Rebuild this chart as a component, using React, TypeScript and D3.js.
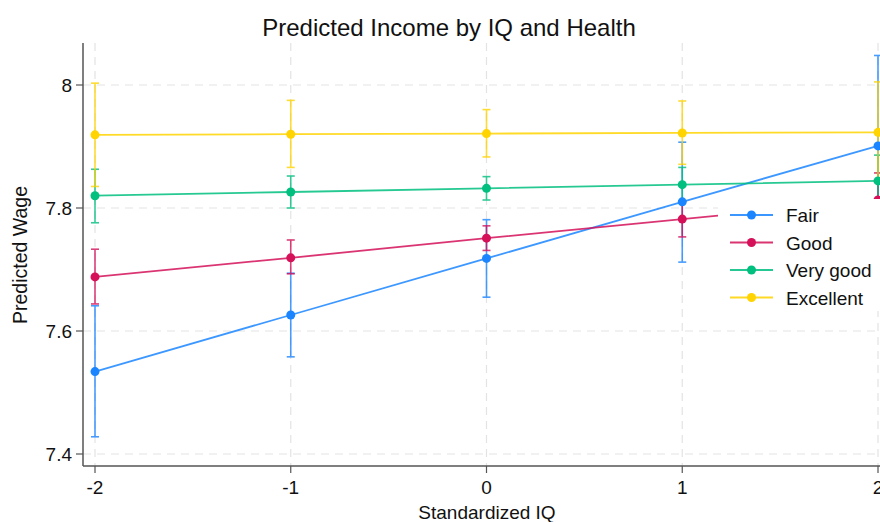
import React from "react";
import * as d3 from "d3";

const xTicks = [-2, -1, 0, 1, 2];
const yTicks = [7.4, 7.6, 7.8, 8];
const seriesNames = ["Fair", "Good", "Very good", "Excellent"];
const seriesColors = ["#1a85ff", "#d41159", "#00bf7f", "#ffd400"];

const fairMean = [7.534, 7.626, 7.718, 7.81, 7.901];
const fairLo = [7.428, 7.558, 7.655, 7.712, 7.754];
const fairHi = [7.641, 7.694, 7.781, 7.907, 8.048];

const goodMean = [7.688, 7.719, 7.751, 7.782, 7.813];
const goodLo = [7.644, 7.693, 7.731, 7.753, 7.77];
const goodHi = [7.733, 7.748, 7.771, 7.811, 7.857];

const vgoodMean = [7.82, 7.826, 7.832, 7.838, 7.844];
const vgoodLo = [7.776, 7.8, 7.813, 7.81, 7.802];
const vgoodHi = [7.863, 7.852, 7.851, 7.866, 7.886];

const excMean = [7.919, 7.92, 7.921, 7.922, 7.923];
const excLo = [7.835, 7.866, 7.883, 7.871, 7.842];
const excHi = [8.003, 7.975, 7.96, 7.974, 8.005];

const means = [fairMean, goodMean, vgoodMean, excMean];
const los = [fairLo, goodLo, vgoodLo, excLo];
const his = [fairHi, goodHi, vgoodHi, excHi];

const W = 880;
const H = 522;
const FONT = "'Liberation Sans', Arial, Helvetica, sans-serif";

export default function App() {
  const x = d3.scaleLinear().domain([-2, 2]).range([95, 878]);
  const y = d3.scaleLinear().domain([7.4, 8]).range([454, 85]);
  const axisLeft = 83;
  const axisBottom = 466;
  const plotTop = 43;

  const line = d3
    .line<number>()
    .x((_, i) => x(xTicks[i]))
    .y((d) => y(d));

  const legendX = 730;
  const legendY0 = 215;
  const legendDy = 27.5;

  return (
    <svg
      width={W}
      height={H}
      style={{ position: "absolute", left: 0, top: 0, background: "#fff" }}
      fontFamily={FONT}
    >
      <rect x={0} y={0} width={W} height={H} fill="#fff" />
      {yTicks.map((t) => (
        <line
          key={"gy" + t}
          x1={axisLeft}
          x2={W}
          y1={y(t)}
          y2={y(t)}
          stroke="#e3e3e3"
          strokeWidth={1.2}
          strokeDasharray="8,6"
        />
      ))}
      {xTicks.map((t) => (
        <line
          key={"gx" + t}
          x1={x(t)}
          x2={x(t)}
          y1={plotTop}
          y2={axisBottom}
          stroke="#e3e3e3"
          strokeWidth={1.2}
          strokeDasharray="8,6"
        />
      ))}
      {means.map((m, s) => (
        <g key={"eb" + s} stroke={seriesColors[s]} strokeWidth={1.6} opacity={0.8}>
          {m.map((_, i) => (
            <g key={i}>
              <line x1={x(xTicks[i])} x2={x(xTicks[i])} y1={y(los[s][i])} y2={y(his[s][i])} />
              <line x1={x(xTicks[i]) - 4} x2={x(xTicks[i]) + 4} y1={y(los[s][i])} y2={y(los[s][i])} />
              <line x1={x(xTicks[i]) - 4} x2={x(xTicks[i]) + 4} y1={y(his[s][i])} y2={y(his[s][i])} />
            </g>
          ))}
        </g>
      ))}
      {means.map((m, s) => (
        <path key={"ln" + s} d={line(m) || ""} fill="none" stroke={seriesColors[s]} strokeWidth={1.8} opacity={0.85} />
      ))}
      {means.map((m, s) => (
        <g key={"mk" + s} fill={seriesColors[s]}>
          {m.map((v, i) => (
            <circle key={i} cx={x(xTicks[i])} cy={y(v)} r={4.5} />
          ))}
        </g>
      ))}
      <line x1={axisLeft} x2={axisLeft} y1={plotTop} y2={axisBottom} stroke="#555" strokeWidth={1.5} />
      <line x1={axisLeft} x2={W} y1={axisBottom} y2={axisBottom} stroke="#555" strokeWidth={1.5} />
      {yTicks.map((t) => (
        <g key={"yt" + t}>
          <line x1={axisLeft - 7} x2={axisLeft} y1={y(t)} y2={y(t)} stroke="#555" strokeWidth={1.2} />
          <text x={72} y={y(t) + 7} textAnchor="end" fontSize={19} fill="#111">
            {d3.format("~g")(t)}
          </text>
        </g>
      ))}
      {xTicks.map((t) => (
        <g key={"xt" + t}>
          <line x1={x(t)} x2={x(t)} y1={axisBottom} y2={axisBottom + 7} stroke="#555" strokeWidth={1.2} />
          <text x={x(t)} y={494} textAnchor="middle" fontSize={19} fill="#111">
            {t < 0 ? "-" + Math.abs(t) : String(t)}
          </text>
        </g>
      ))}
      <rect x={718} y={199} width={162} height={112} fill="#fff" />
      {seriesNames.map((n, s) => {
        const ly = legendY0 + s * legendDy;
        return (
          <g key={"lg" + s}>
            <line x1={legendX} x2={legendX + 43} y1={ly} y2={ly} stroke={seriesColors[s]} strokeWidth={1.8} opacity={0.85} />
            <circle cx={legendX + 21.5} cy={ly} r={4.5} fill={seriesColors[s]} />
            <text x={786} y={ly + 7} fontSize={19} fill="#111">
              {n}
            </text>
          </g>
        );
      })}
      <text x={449} y={36} textAnchor="middle" fontSize={24} fill="#111">
        Predicted Income by IQ and Health
      </text>
      <text x={487} y={519} textAnchor="middle" fontSize={19} fill="#111">
        Standardized IQ
      </text>
      <text transform="translate(27,255) rotate(-90)" textAnchor="middle" fontSize={19.5} fill="#111">
        Predicted Wage
      </text>
    </svg>
  );
}
